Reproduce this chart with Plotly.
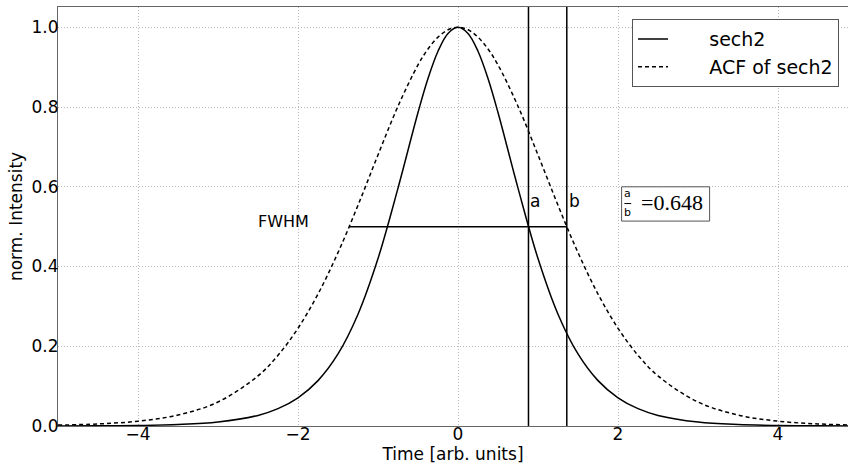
import plotly.graph_objects as go

# Sample times (arb. units)
time = [-5, -4.5, -4, -3.5, -3, -2.5, -2.25, -2, -1.75, -1.5, -1.25, -1, -0.75, -0.5, -0.375, -0.25, -0.125, 0,
        0.125, 0.25, 0.375, 0.5, 0.75, 1, 1.25, 1.5, 1.75, 2, 2.25, 2.5, 3, 3.5, 4, 4.5, 5]
# sech2 pulse intensity
sech2 = [0.0002, 0.0005, 0.0013, 0.0036, 0.0099, 0.0266, 0.0435, 0.0707, 0.1138, 0.1807, 0.2804, 0.4200, 0.5966, 0.7864, 0.8716, 0.9400, 0.9845, 1.0,
         0.9845, 0.9400, 0.8716, 0.7864, 0.5966, 0.4200, 0.2804, 0.1807, 0.1138, 0.0707, 0.0435, 0.0266, 0.0099, 0.0036, 0.0013, 0.0005, 0.0002]
# autocorrelation of sech2
acf = [0.0022, 0.0052, 0.0121, 0.0275, 0.0602, 0.1257, 0.1773, 0.2451, 0.3310, 0.4349, 0.5536, 0.6800, 0.8022, 0.9057, 0.9456, 0.9754, 0.9938, 1.0,
       0.9938, 0.9754, 0.9456, 0.9057, 0.8022, 0.6800, 0.5536, 0.4349, 0.3310, 0.2451, 0.1773, 0.1257, 0.0602, 0.0275, 0.0121, 0.0052, 0.0022]

series_names = ["sech2", "ACF of sech2"]
x_ticks = [-4, -2, 0, 2, 4]
y_ticks = [0, 0.2, 0.4, 0.6, 0.8, 1.0]

half_a = 0.881   # half width of sech2 at half maximum
half_b = 1.36    # half width of ACF at half maximum
ratio_text = "=0.648"

FONT = "DejaVu Sans"
PAD = "\u00a0" * 6

fig = go.Figure()
fig.add_trace(go.Scatter(x=time, y=sech2, mode="lines", name=PAD + series_names[0],
                         line=dict(color="black", width=1.5, shape="spline", smoothing=1.0)))
fig.add_trace(go.Scatter(x=time, y=acf, mode="lines", name=PAD + series_names[1],
                         line=dict(color="black", width=1.5, dash="4px,3px", shape="spline", smoothing=1.0)))

# vertical markers a and b
for xv in (half_a, half_b):
    fig.add_shape(type="line", xref="x", yref="paper", x0=xv, x1=xv, y0=0, y1=1,
                  line=dict(color="black", width=1.5))
# FWHM line
fig.add_shape(type="line", xref="x", yref="y", x0=-half_b, x1=half_b, y0=0.5, y1=0.5,
              line=dict(color="black", width=1.5))

fig.add_annotation(x=-2.18, y=0.513, text="FWHM", showarrow=False,
                   font=dict(family=FONT, size=16, color="black"))
fig.add_annotation(x=0.96, y=0.565, text="a", showarrow=False,
                   font=dict(family=FONT, size=17, color="black"))
fig.add_annotation(x=1.46, y=0.565, text="b", showarrow=False,
                   font=dict(family=FONT, size=17, color="black"))

# ratio box
fig.add_shape(type="rect", xref="x", yref="y", x0=2.045, x1=3.145, y0=0.514, y1=0.600,
              line=dict(color="#555555", width=1), fillcolor="white")
fig.add_annotation(x=2.12, y=0.583, text="a", showarrow=False,
                   font=dict(family=FONT, size=11, color="black"))
fig.add_annotation(x=2.12, y=0.535, text="b", showarrow=False,
                   font=dict(family=FONT, size=11, color="black"))
fig.add_shape(type="line", xref="x", yref="y", x0=2.08, x1=2.165, y0=0.558, y1=0.558,
              line=dict(color="black", width=1))
fig.add_annotation(x=2.68, y=0.561, text=ratio_text, showarrow=False,
                   font=dict(family="Liberation Serif", size=22, color="black"))

fig.update_layout(
    width=848, height=468,
    margin=dict(l=58, r=0, t=7, b=42),
    plot_bgcolor="white", paper_bgcolor="white",
    font=dict(family=FONT, size=17, color="black"),
    showlegend=True,
    legend=dict(x=0.7266, y=0.971, xanchor="left", yanchor="top",
                bordercolor="#555555", borderwidth=1, bgcolor="white",
                font=dict(family=FONT, size=19, color="black"),
                itemwidth=30),
    xaxis=dict(range=[-5, 4.875], tickvals=x_ticks, ticktext=[str(v).replace("-", "\u2212") for v in x_ticks],
               showgrid=True, gridcolor="#bbbbbb", griddash="1px,2px", gridwidth=1,
               zeroline=False, showline=True, linecolor="#666666", linewidth=1, mirror=True,
               ticks="", ticklabelstandoff=-7,
               title=dict(text="Time [arb. units]", standoff=0, font=dict(size=17)),
               tickfont=dict(size=17)),
    yaxis=dict(range=[0, 1.051], tickvals=y_ticks, tickformat=".1f",
               showgrid=True, gridcolor="#bbbbbb", griddash="1px,2px", gridwidth=1,
               zeroline=False, showline=True, linecolor="#666666", linewidth=1,
               ticks="", ticklabelstandoff=-5,
               title=dict(text="norm. Intensity", standoff=4, font=dict(size=17)),
               tickfont=dict(size=17)),
)

fig.write_html("out.html", config={"displayModeBar": False},
               post_script="document.body.style.margin='0';document.body.style.overflow='hidden';")
